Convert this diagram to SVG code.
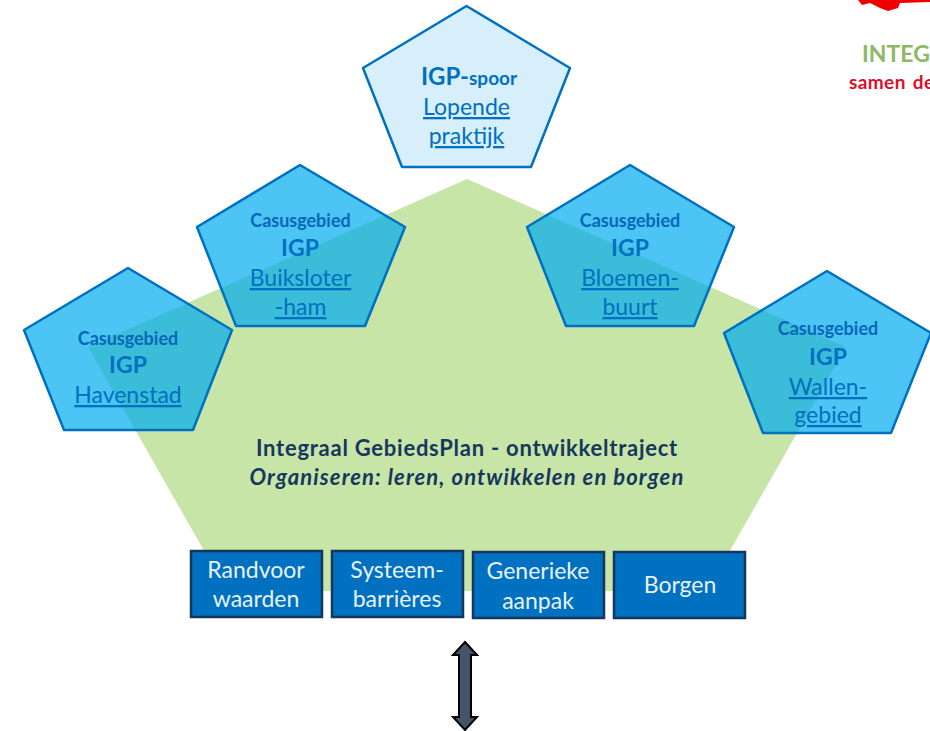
<svg xmlns="http://www.w3.org/2000/svg" width="930" height="731" viewBox="0 0 930 731">
<style>
text{font-family:"Lato","Open Sans",sans-serif;text-anchor:middle;fill:#0070C0}
.p{fill:#00ADEF;fill-opacity:.7;stroke:#0070C0;stroke-width:2.5;stroke-linejoin:round}
.c{font-size:18px;font-weight:700;fill:#0868B8}
.i{font-size:23px;font-weight:700}
.l{font-size:23px;text-decoration:underline}
.b{fill:#0070C0;stroke:#17365D;stroke-width:2.5}
.w{fill:#E8F2FA;font-size:23px}
.t{fill:#17375E;font-size:22px;font-weight:700}
</style>
<rect width="930" height="731" fill="#fff"/>
<g id="top-right-fragment">
<path d="M858 0L862 5L870 3L880 8L888 11L898 8L900 3L930 2V0Z" fill="#EE0000"/>
<text x="862" y="62" style="text-anchor:start;font-size:23px;font-weight:700;fill:#8DB868">INTEG</text>
<text x="849" y="89" style="text-anchor:start;font-size:19px;font-weight:700;fill:#D8102A;letter-spacing:.4px;word-spacing:2px">samen de</text>
</g>
<g id="plan">
<polygon points="467,179 846,347 707,591 227,591 88,347" fill="#C7E5A6"/>
<text class="t" x="467" y="456" style="letter-spacing:.75px">Integraal GebiedsPlan - ontwikkeltraject</text>
<text class="t" x="467" y="485" font-style="italic" style="letter-spacing:1.1px">Organiseren: leren, ontwikkelen en borgen</text>
</g>
<g id="spoor">
<polygon points="466.5,6 570,68 531,167 402,167 363,68" fill="#D6EFFB" stroke="#0070C0" stroke-width="2.5" stroke-linejoin="round"/>
<text x="469" y="85"><tspan class="i" style="font-size:24px">IGP-</tspan><tspan class="c" style="font-size:19px;fill:#0070C0">spoor</tspan></text>
<text class="l" x="466.500" y="115">Lopende</text>
<text class="l" x="466.500" y="144">praktijk</text>
</g>
<g id="buiksloterham">
<polygon class="p" points="300,165 405,227 365,326 236,326 197,227"/>
<text class="c" x="300.500" y="227">Casusgebied</text>
<text class="i" x="300" y="256">IGP</text>
<text class="l" x="300.500" y="286">Buiksloter</text>
<text class="l" x="300.500" y="315">-ham</text>
</g>
<g id="havenstad">
<polygon class="p" points="128,268 232,330 193,430 64,430 24,330"/>
<text class="c" x="128" y="345">Casusgebied</text>
<text class="i" x="128" y="373">IGP</text>
<text class="l" x="128" y="403">Havenstad</text>
</g>
<g id="bloemenbuurt">
<polygon class="p" points="630,165 734,227 694,326 566,326 527,227"/>
<text class="c" x="630" y="227">Casusgebied</text>
<text class="i" x="630" y="256">IGP</text>
<text class="l" x="630" y="286">Bloemen-</text>
<text class="l" x="630" y="315">buurt</text>
</g>
<g id="wallengebied">
<polygon class="p" points="827,271 931,333 891,433 763,433 724,333"/>
<text class="c" x="828" y="335">Casusgebied</text>
<text class="i" x="828" y="365">IGP</text>
<text class="l" x="828" y="395">Wallen-</text>
<text class="l" x="828" y="423">gebied</text>
</g>
<g id="randvoorwaarden">
<rect class="b" x="191" y="551" width="131" height="66"/>
<text class="w" x="256" y="578">Randvoor</text>
<text class="w" x="256" y="607">waarden</text>
</g>
<g id="systeembarrieres">
<rect class="b" x="332" y="551" width="131" height="66"/>
<text class="w" x="397" y="578">Systeem-</text>
<text class="w" x="397" y="607">barrières</text>
</g>
<g id="generieke-aanpak">
<rect class="b" x="473" y="552" width="131" height="66"/>
<text class="w" x="538" y="579">Generieke</text>
<text class="w" x="538" y="609">aanpak</text>
</g>
<g id="borgen">
<rect class="b" x="614" y="552" width="131" height="66"/>
<text class="w" x="680" y="593">Borgen</text>
</g>
<g id="connectors">
<polygon points="465,642 477,655 471,655 471,717 477,717 465,730 453,717 459,717 459,655 453,655" fill="#44546A" stroke="#000" stroke-width="2"/>
</g>
</svg>
